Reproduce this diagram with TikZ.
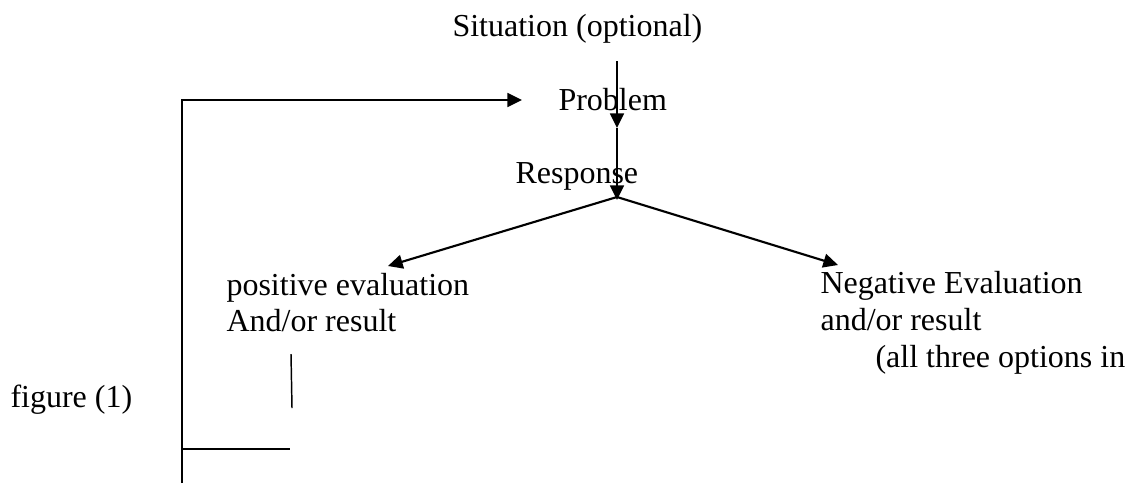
\documentclass[tikz,border=0pt]{standalone}
\usepackage{fontspec}
\setmainfont{Liberation Serif}
\usepackage{tikz}
\usetikzlibrary{arrows.meta, positioning}

\begin{document}
\begin{tikzpicture}[
  x=0.375pt, y=-0.375pt,
  lbl/.style={anchor=base west, inner sep=0pt, font=\fontsize{12}{13.8}\selectfont},
  arr/.style={-{Triangle[length=5.5pt, width=5.2pt]}, line width=0.8pt},
  edge line/.style={line width=0.8pt},
  tick line/.style={line width=0.55pt}
]
\useasboundingbox (0,0) rectangle (1126,483);

% texts
\node[lbl] (sit)    at (452,36)  {Situation (optional)};
\node[lbl] (prob)   at (558,110) {Problem};
\node[lbl] (resp)   at (515,183) {Response};
\node[lbl] (pos)    at (226,295) {positive evaluation};
\node[lbl] (posres) at (226,331) {And/or result};
\node[lbl] (neg)    at (820,293) {Negative Evaluation};
\node[lbl] (negres) at (820,330) {and/or result};
\node[lbl] (note)   at (875,367) {(all three options in};
\node[lbl] (fig)    at (10,407)  {figure (1)};

% connector ends
\coordinate (sitfoot)  at (617,61);
\coordinate (probin)   at (617,128);
\coordinate (respin)   at (617,200);
\coordinate (fork)     at (617,197);
\coordinate (posin)    at (388,266);
\coordinate (negin)    at (838,265);
\coordinate (looptop)  at (182,100);
\coordinate (loopbot)  at (182,483);
\coordinate (loopin)   at (522,100);
\coordinate (stubtop)  at (291,354);
\coordinate (stubbot)  at (292,408);
\coordinate (foot)     at (182,449);
\coordinate (footend)  at (290,449);

\draw[arr] (sitfoot) -- (probin);
\draw[arr] (probin) -- (respin);
\draw[arr] (fork) -- (posin);
\draw[arr] (fork) -- (negin);
\draw[arr] (loopbot) -- (looptop) -- (loopin);
\draw[tick line] (stubtop) -- (stubbot);
\draw[edge line] (foot) -- (footend);
\end{tikzpicture}
\end{document}
